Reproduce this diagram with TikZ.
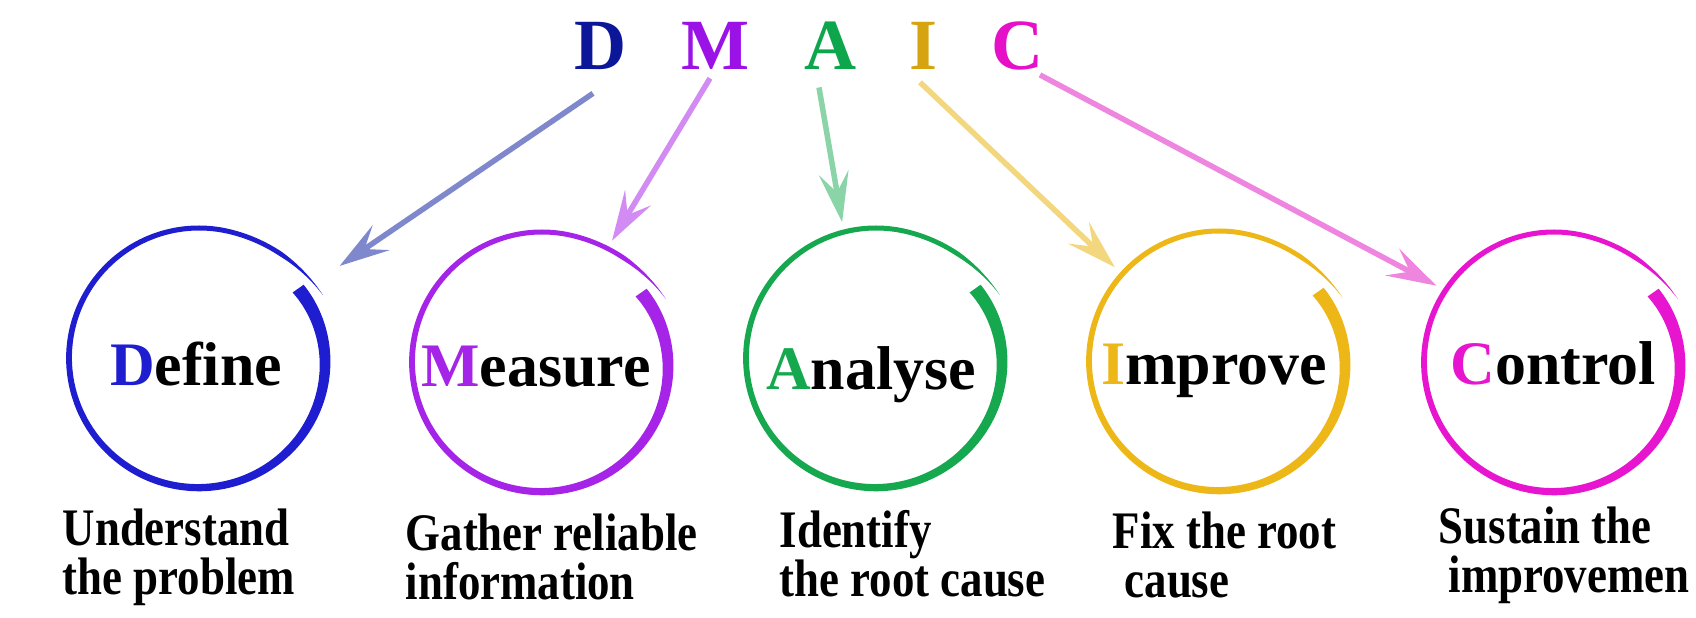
\documentclass[tikz,border=0pt]{standalone}
\usepackage{fontspec}
\setmainfont{Liberation Serif}
\newfontfamily\lowfont[FakeStretch=0.85]{Liberation Serif}
\usepackage{tikz}
\usetikzlibrary{arrows.meta}

\definecolor{topD}{HTML}{0C1698}
\definecolor{topM}{HTML}{9B12E6}
\definecolor{topA}{HTML}{0EA64C}
\definecolor{topI}{HTML}{D6A410}
\definecolor{topC}{HTML}{E610C8}
\definecolor{colD}{HTML}{1E1ED0}
\definecolor{colM}{HTML}{A524E8}
\definecolor{colA}{HTML}{16A84E}
\definecolor{colI}{HTML}{EDB817}
\definecolor{colC}{HTML}{E815D0}
\definecolor{arrD}{HTML}{7F88CC}
\definecolor{arrM}{HTML}{D28BF2}
\definecolor{arrA}{HTML}{8AD4A8}
\definecolor{arrI}{HTML}{F2D77E}
\definecolor{arrC}{HTML}{EE86E0}

% brush ring: radius and stroke width along the angle
\pgfmathdeclarefunction{brushr}{1}{%
  \pgfmathsetmacro\bt{(#1-27)/368}%
  \pgfmathsetmacro\ba{max(0,1-(#1-27)/50)}%
  \pgfmathparse{130+9*\ba*\ba-9*\bt*\bt*\bt*\bt*\bt*\bt*\bt*\bt}}
\pgfmathdeclarefunction{brushw}{1}{%
  \pgfmathsetmacro\bt{(#1-27)/368}%
  \pgfmathsetmacro\bs{min(1,(#1-27)/25)}%
  \pgfmathparse{(4.5+3*\bt+6*\bt*\bt*\bt*\bt*\bt)*\bs}}
\newcommand{\brush}[2]{%
  \fill[#2, shift={(#1)}] plot[domain=27:395, samples=90, smooth] (\x:{brushr(\x)+brushw(\x)/2})
    -- plot[domain=395:27, samples=90, smooth] (\x:{brushr(\x)-brushw(\x)/2}) -- cycle;}

\begin{document}
\begin{tikzpicture}[x=0.01cm, y=0.01cm,
	letter/.style={font=\fontsize{20.5}{24}\selectfont\bfseries, inner sep=0},
	word/.style={font=\fontsize{17.6}{20}\selectfont\bfseries, inner sep=0, anchor=base},
	note/.style={font=\lowfont\fontsize{15}{13.9}\selectfont\bfseries, inner sep=0, anchor=north west, align=left},
	ring/.style={circle, minimum size=2.8cm, inner sep=0, outer sep=0},
	link/.style={-{Stealth[length=0.5cm, width=0.3cm, inset=0.2cm]}, line width=0.055cm}]
	
		\useasboundingbox (0,0) rectangle (1696,618);
		
		\node[letter, text=topD] (lD) at (601,572) {D};
		\node[letter, text=topM] (lM) at (716,572) {M};
		\node[letter, text=topA] (lA) at (831,572) {A};
		\node[letter, text=topI] (lI) at (924,572) {I};
		\node[letter, text=topC] (lC) at (1018,572) {C};
		
		\node[ring] (cD) at (199,260) {};
		\node[ring] (cM) at (542,256) {};
		\node[ring] (cA) at (876,260) {};
		\node[ring] (cI) at (1219,257) {};
		\node[ring] (cC) at (1554,256) {};
		
		\foreach \c/\col in {cD/colD, cM/colM, cA/colA, cI/colI, cC/colC}
			\brush{\c}{\col};
		
		\node[word] (wD) at (196,232) {\textcolor{colD}{D}efine};
		\node[word] (wM) at (536,231) {\textcolor{colM}{M}easure};
		\node[word] (wA) at (871,228) {\textcolor{colA}{A}nalyse};
		\node[word] (wI) at (1214,233) {\textcolor{colI}{I}mprove};
		\node[word] (wC) at (1553,233) {\textcolor{colC}{C}ontrol};
		
		\draw[link, arrD, shorten >=0.28cm] ([shift={(-8,-23)}]lD.south) -- (cD.33);
		\draw[link, arrM] ([shift={(-6,-8)}]lM.south) -- (cM.60);
		\draw[link, arrA] ([shift={(-12,-17)}]lA.south) -- (cA.104);
		\draw[link, arrI] ([shift={(-4,-12)}]lI.south) -- (cI.138);
		\draw[link, arrC] ([shift={(22,-4)}]lC.south) -- (cC.147);
		
		\node[note] (nD) at (62,110) {Understand\\the problem};
		\node[note] (nM) at (405,105) {Gather reliable\\information};
		\node[note] (nA) at (779,108) {Identify\\the root cause};
		\node[note] (nI) at (1112,107) {Fix the root\\\hspace{0.12cm}cause};
		\node[note] (nC) at (1438,112) {Sustain the\\\hspace{0.1cm}improvemen};
	
	\end{tikzpicture}
\end{document}
